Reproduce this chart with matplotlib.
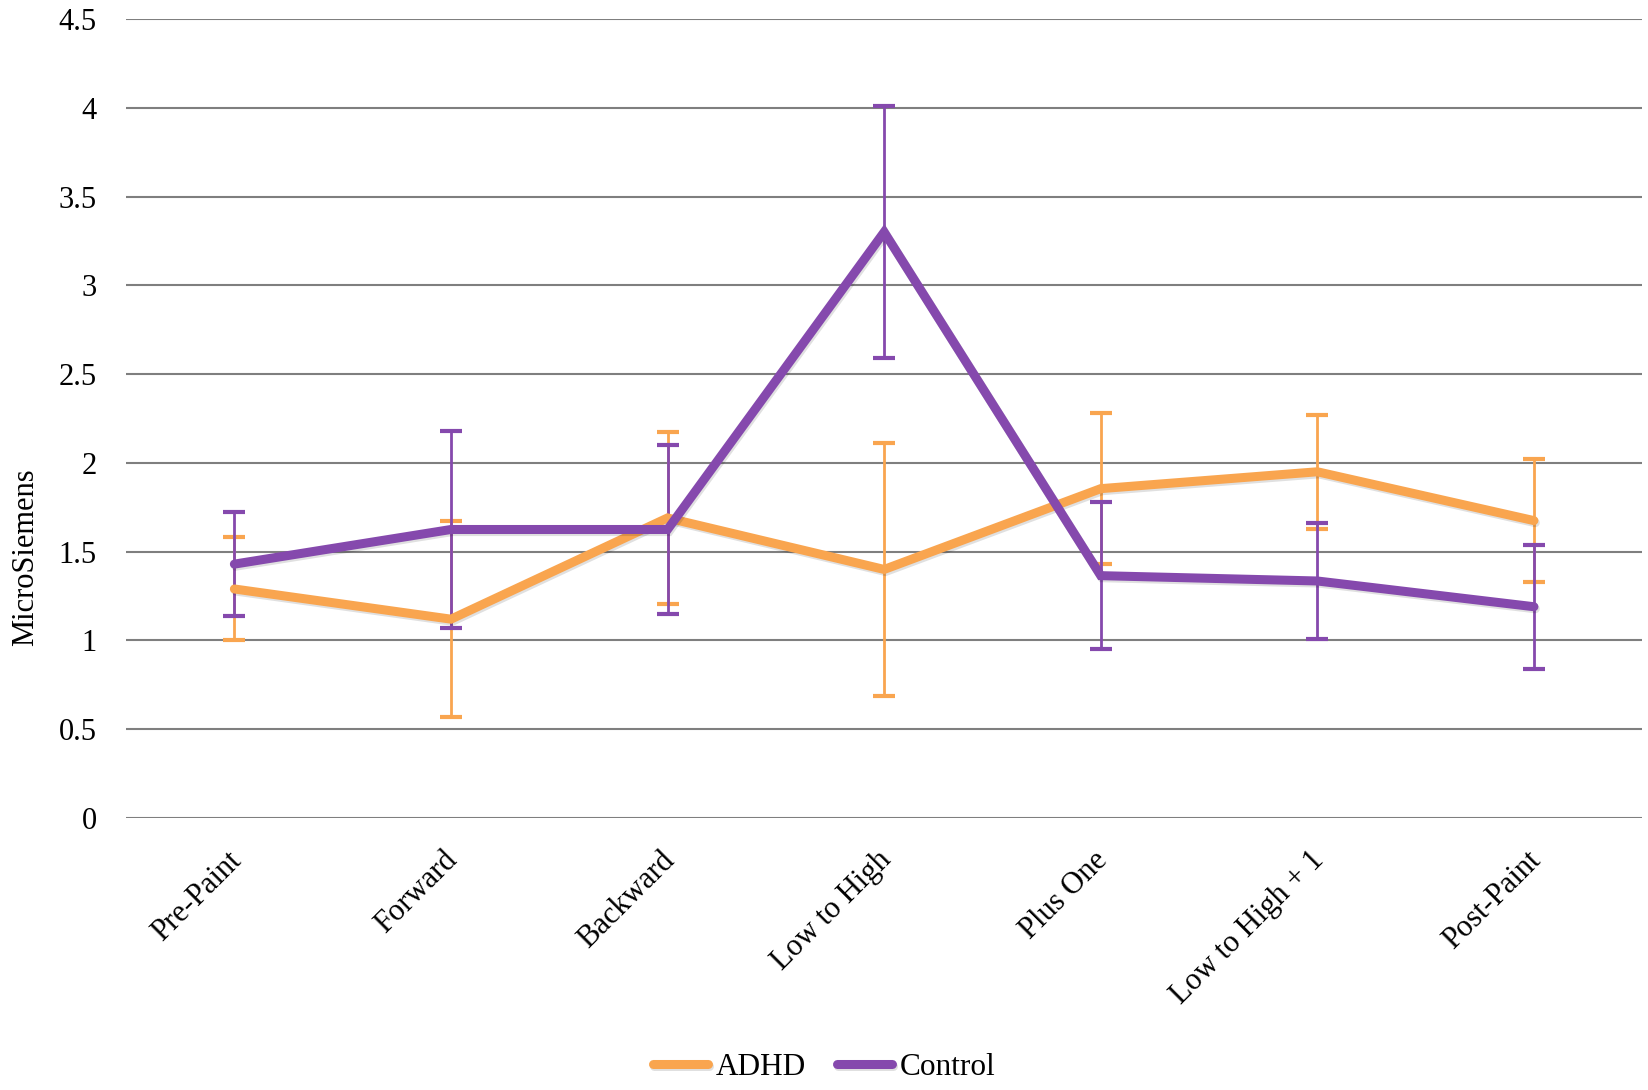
import numpy as np
import matplotlib.pyplot as plt
import matplotlib.patheffects as pe
import matplotlib.transforms as mtransforms

plt.rcParams['font.family'] = ['Liberation Serif', 'DejaVu Serif']

conditions = ["Pre-Paint", "Forward", "Backward", "Low to High",
              "Plus One", "Low to High + 1", "Post-Paint"]

adhd_mean = [1.29, 1.12, 1.69, 1.40, 1.855, 1.95, 1.675]
adhd_err = [0.29, 0.55, 0.485, 0.71, 0.425, 0.32, 0.345]

control_mean = [1.43, 1.625, 1.625, 3.30, 1.365, 1.335, 1.19]
control_err = [0.293, 0.555, 0.475, 0.71, 0.415, 0.325, 0.35]

adhd_color = "#F9A54F"
control_color = "#8549AD"

fig = plt.figure(figsize=(16.48, 10.9), dpi=100)
ax = fig.add_axes([0.0765, 0.2495, 0.92, 0.7331])

x = np.arange(len(conditions))
shadow = [pe.SimpleLineShadow(offset=(1, -1.5), shadow_color="black", alpha=0.12, rho=0.3),
          pe.Normal()]

for means, errs, color, label, z in [(adhd_mean, adhd_err, adhd_color, "ADHD", 3),
                                     (control_mean, control_err, control_color, "Control", 4)]:
    ax.errorbar(x, means, yerr=errs, fmt="none", ecolor=color, elinewidth=2,
                capsize=8, capthick=3, zorder=z)
    ax.plot(x, means, color=color, lw=6.5, solid_capstyle="round",
            solid_joinstyle="miter", label=label, path_effects=shadow, zorder=z + 2)

ax.set_xlim(-0.5, 6.5)
ax.set_ylim(0, 4.5)
ax.set_yticks(np.arange(0, 4.51, 0.5))
ax.set_yticklabels(["0", "0.5", "1", "1.5", "2", "2.5", "3", "3.5", "4", "4.5"])
ax.grid(axis="y", color="#7f7f7f", lw=1.5)
ax.set_axisbelow(True)
for s in ax.spines.values():
    s.set_visible(False)
ax.tick_params(axis="both", length=0, labelsize=22)
ax.tick_params(axis="y", pad=21)

ax.set_xticks(x)
ax.set_xticklabels(conditions, rotation=45, ha="right", rotation_mode="anchor")
ax.tick_params(axis="x", pad=20)
# nudge the slanted category labels a little to the left
shift = mtransforms.ScaledTranslation(-8 / 100, 0, fig.dpi_scale_trans)
for lbl in ax.get_xticklabels():
    lbl.set_transform(lbl.get_transform() + shift)

ax.set_ylabel("MicroSiemens", fontsize=22)
ax.yaxis.set_label_coords(-0.0567, 0.327)

fig.legend(loc="center", bbox_to_anchor=(0.5, 0.021), ncol=2, frameon=False,
           fontsize=22.5, handlelength=1.75, handletextpad=0.25, columnspacing=1.0)

fig.savefig("out.png", dpi=100)
